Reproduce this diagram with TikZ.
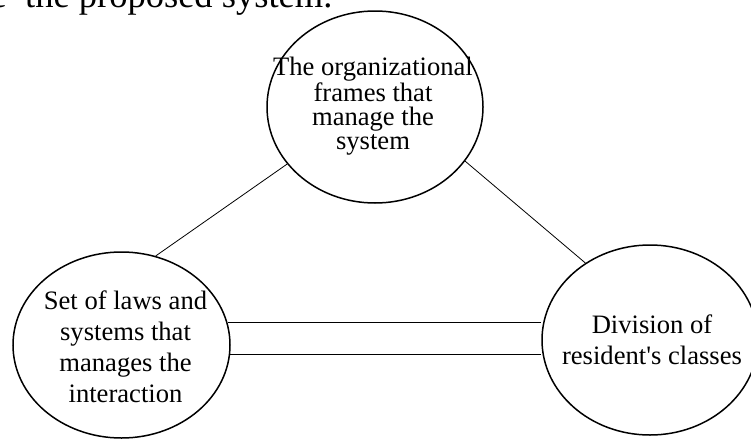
\documentclass[tikz,border=0pt]{standalone}
\usepackage{fontspec}
\setmainfont{Liberation Serif}[Ligatures=TeXOff]
\usetikzlibrary{shapes.geometric}

\begin{document}
\begin{tikzpicture}[x=1pt,y=-1pt,
	bubble/.style={draw,ellipse,line width=1.5pt,inner sep=0pt},
	words/.style={inner sep=0pt,align=center,font=\fontsize{26.6}{31}\selectfont},
	link/.style={line width=0.8pt}]
	\useasboundingbox (0,0) rectangle (751,439);
	\clip (0,0) rectangle (751,439);
	
	%running text above the figure
	\node[anchor=base east,inner sep=0pt,font=\fontsize{36.5}{40}\selectfont] (cut) at (7,7) {e};
	\node[anchor=base west,inner sep=0pt,font=\fontsize{36.5}{40}\selectfont] (caption) at (25,7) {the proposed system.};
	
	%ellipses
	\node[bubble,minimum width=216pt,minimum height=192pt] (org) at (375,107) {};
	\node[bubble,minimum width=217pt,minimum height=186pt] (laws) at (121.5,345) {};
	\node[bubble,minimum width=216pt,minimum height=190pt] (div) at (650,340) {};
	
	%labels
	\node[words,font=\fontsize{26.6}{24}\selectfont] (orgtext) at (373,106) {The organizational\\frames that\\manage the\\system};
	\node[words] (lawstext) at (125.5,347) {Set of laws and\\systems that\\manages the\\interaction};
	\node[words] (divtext) at (652,340) {Division of\\resident's classes};
	
	%connections
	\draw[link] (org.213.4) -- (laws.69.1);
	\draw[link] (org.-31.3) -- (div.130.2);
	\draw[link] (laws.12.9) -- (laws.12.9 -| div.west);
	\draw[link] (laws.-5.3) -- (laws.-5.3 -| div.west);
\end{tikzpicture}
\end{document}
